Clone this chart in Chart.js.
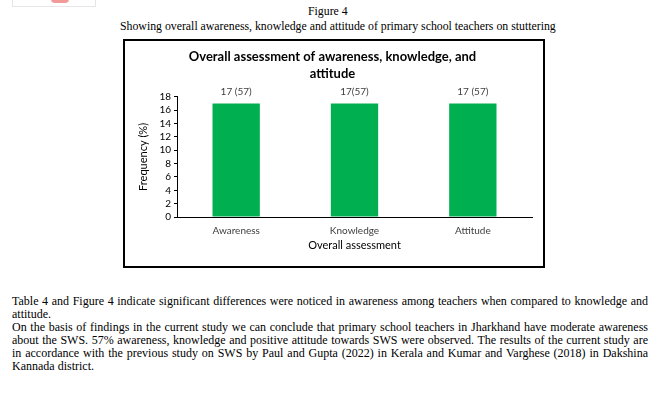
<!DOCTYPE html>
<html>
<head>
<meta charset="utf-8">
<script src="https://cdn.jsdelivr.net/npm/chart.js@4/dist/chart.umd.min.js"></script>
<style>
  body { margin: 0; background: #fff; width: 665px; height: 397px; position: relative; overflow: hidden; }
  .serif { font-family: "Liberation Serif", "Times New Roman", serif; color: #000; font-size: 11.8px; position: absolute; white-space: nowrap; }
  #logo { position: absolute; left: 12px; top: -2px; width: 82px; height: 7px; border: 1px solid #e6e6e6; }
  #logo span { position: absolute; left: 38px; top: 0; width: 18px; height: 4px; background: #f29a9a; border-radius: 0 0 9px 9px; }
  #box { position: absolute; left: 123px; top: 39px; width: 418px; height: 225px; border: 2px solid #000; }
  #box canvas { position: absolute; left: 0; top: 0; }
  #para { position: absolute; left: 12px; top: 295px; width: 636px; font-family: "Liberation Serif", "Times New Roman", serif; font-size: 12px; line-height: 13px; text-align: justify; color: #000; }
</style>
</head>
<body>
<div id="logo"><span></span></div>
<div class="serif" style="left:308px; top:4px;">Figure 4</div>
<div class="serif" style="left:120px; top:19px;">Showing overall awareness, knowledge and attitude of primary school teachers on stuttering</div>
<div id="box"><canvas id="myChart" width="418" height="225"></canvas></div>
<div id="para">Table 4 and Figure 4 indicate significant differences were noticed in awareness among teachers when compared to knowledge and attitude.<br>On the basis of findings in the current study we can conclude that primary school teachers in Jharkhand have moderate awareness about the SWS. 57% awareness, knowledge and positive attitude towards SWS were observed. The results of the current study are in accordance with the previous study on SWS by Paul and Gupta (2022) in Kerala and Kumar and Varghese (2018) in Dakshina Kannada district.</div>
<script>
const categories = ['Awareness', 'Knowledge', 'Attitude'];
const frequencies = [17, 17, 17];
const barLabels = ['17 (57)', '17(57)', '17 (57)'];
const yTicks = [0, 2, 4, 6, 8, 10, 12, 14, 16, 18];

const textColor = '#404040';
const chartFont = 'Lato, "Open Sans", sans-serif';

// etiquetas encima de cada barra
const barLabelPlugin = {
    id: 'barLabels',
    afterDatasetsDraw(chart) {
        const ctx = chart.ctx;
        const meta = chart.getDatasetMeta(0);
        ctx.save();
        ctx.font = '10px ' + chartFont;
        ctx.fillStyle = textColor;
        ctx.textAlign = 'center';
        ctx.textBaseline = 'middle';
        meta.data.forEach((bar, i) => {
            ctx.fillText(barLabels[i], bar.x, bar.y - 12);
        });
        ctx.restore();
    }
};

new Chart(document.getElementById('myChart'), {
    type: 'bar',
    data: {
        labels: categories,
        datasets: [{
            data: frequencies,
            backgroundColor: '#00B050',
            barPercentage: 0.4,
            categoryPercentage: 1
        }]
    },
    options: {
        responsive: false,
        animation: false,
        layout: { padding: { left: 8, right: 11, top: 0, bottom: 14 } },
        plugins: {
            legend: { display: false },
            tooltip: { enabled: false },
            title: {
                display: true,
                text: ['Overall assessment of awareness, knowledge, and', 'attitude'],
                color: '#000',
                font: { family: chartFont, size: 13, weight: 'bold', lineHeight: 1.3 },
                padding: { top: 7, bottom: 15 }
            }
        },
        scales: {
            x: {
                grid: { display: false, drawTicks: false },
                border: { color: '#000', width: 1 },
                ticks: { color: textColor, font: { family: chartFont, size: 10 }, padding: 8, maxRotation: 0 },
                title: { display: true, text: 'Overall assessment', color: '#000', font: { family: chartFont, size: 11 }, padding: { top: 0, bottom: 0 } },
                afterFit(scale) { scale.height = 35; }
            },
            y: {
                min: 0,
                max: 18,
                afterBuildTicks(scale) { scale.ticks = yTicks.map(v => ({ value: v })); },
                grid: { display: true, drawOnChartArea: false, drawTicks: true, tickLength: 3, tickColor: '#000' },
                border: { color: '#000', width: 1 },
                ticks: { color: '#000', font: { family: chartFont, size: 10 }, padding: 3, autoSkip: false },
                title: { display: true, text: 'Frequency (%)', color: '#000', font: { family: chartFont, size: 11 }, padding: { bottom: 4 } },
                afterFit(scale) { scale.width = 44; }
            }
        }
    },
    plugins: [barLabelPlugin]
});
</script>
</body>
</html>
